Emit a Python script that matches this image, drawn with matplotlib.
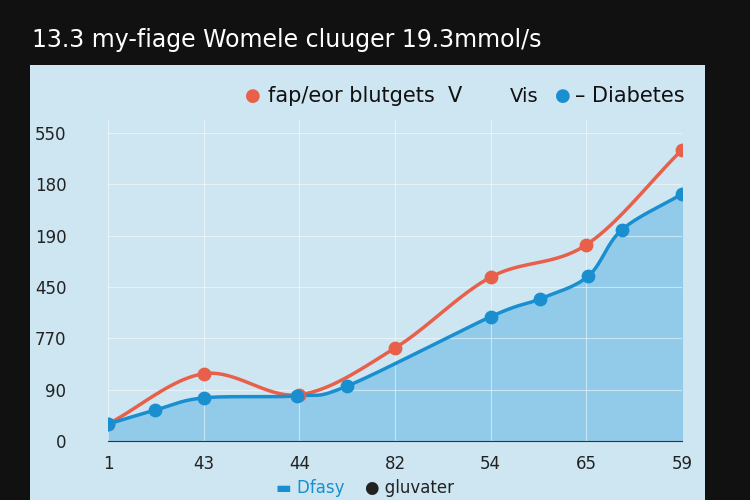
import matplotlib
matplotlib.use("Agg")
import matplotlib.pyplot as plt
import numpy as np
from matplotlib.patches import Rectangle

x_labels = ["1", "43", "44", "82", "54", "65", "59"]
y_labels = ["0", "90", "770", "450", "190", "180", "550"]

orange_x = [0, 1, 2, 3, 4, 5, 6]
orange_y = [0.33, 1.31, 0.90, 1.81, 3.19, 3.82, 5.67]
blue_x = [0, 0.49, 1.0, 1.98, 2.5, 4.0, 4.52, 5.02, 5.37, 6]
blue_y = [0.33, 0.60, 0.84, 0.88, 1.07, 2.42, 2.77, 3.21, 4.11, 4.81]

def smooth(xs, ys, n=20):
    xs = np.asarray(xs, float); ys = np.asarray(ys, float)
    px = np.concatenate([[2*xs[0]-xs[1]], xs, [2*xs[-1]-xs[-2]]])
    py = np.concatenate([[2*ys[0]-ys[1]], ys, [2*ys[-1]-ys[-2]]])
    ox, oy = [], []
    for i in range(1, len(px)-2):
        t = np.linspace(0, 1, n, endpoint=False)
        for arr, out in ((px, ox), (py, oy)):
            p0, p1, p2, p3 = arr[i-1:i+3]
            out.extend(0.5*((2*p1) + (-p0+p2)*t + (2*p0-5*p1+4*p2-p3)*t**2 + (-p0+3*p1-3*p2+p3)*t**3))
    ox.append(xs[-1]); oy.append(ys[-1])
    return np.array(ox), np.array(oy)

fig = plt.figure(figsize=(7.5, 5), dpi=100, facecolor="#111111")
fig.patches.append(Rectangle((30/750, 0), 675/750, 435/500, transform=fig.transFigure,
                             facecolor="#cde6f2", edgecolor="none", zorder=-10))
fig.text(32/750, 1-40/500, "13.3 my-fiage Womele cluuger 19.3mmol/s", color="white",
         fontsize=17, va="center", ha="left")

ax = fig.add_axes([108/750, 59/500, 574/750, 321/500])
ax.set_zorder(2)
ax.set_facecolor("none")
ax.set_xlim(0, 6)
ax.set_ylim(0, 6.25)
for s in ["top", "right", "left"]:
    ax.spines[s].set_visible(False)
ax.spines["bottom"].set_color("#333333")
ax.set_xticks(range(7)); ax.set_xticklabels(x_labels, fontsize=12, color="#222222")
ax.set_yticks(range(7)); ax.set_yticklabels(y_labels, fontsize=12, color="#222222")
ax.tick_params(axis="y", length=0, pad=30)
ax.tick_params(axis="x", length=0, pad=10)
ax.grid(color="white", alpha=0.5, lw=0.8)

bx, by = smooth(blue_x, blue_y)
ox, oy = smooth(orange_x, orange_y)
ax.fill_between(bx, 0, by, color="#8cc8ea", alpha=0.9, zorder=1)
ax.plot(ox, oy, color="#e8604a", lw=2.5, zorder=3)
ax.plot(bx, by, color="#1a8fd0", lw=2.5, zorder=4)
ax.scatter(orange_x, orange_y, s=80, color="#e8604a", zorder=5)
ax.scatter(blue_x, blue_y, s=80, color="#1a8fd0", zorder=6)

fig.text(253/750, 1-96/500, "●", color="#e8604a", fontsize=13, va="center", ha="center")
fig.text(268/750, 1-96/500, "fap/eor blutgets  V", color="#111111", fontsize=15, va="center")
fig.text(510/750, 1-96/500, "Vis", color="#111111", fontsize=14, va="center")
fig.text(563/750, 1-96/500, "●", color="#1a8fd0", fontsize=13, va="center", ha="center")
fig.text(575/750, 1-96/500, "– Diabetes", color="#111111", fontsize=15, va="center")
fig.text(276/750, 1-488/500, "▬ Dfasy", color="#1a8fd0", fontsize=12, va="center")
fig.text(365/750, 1-488/500, "● gluvater", color="#222222", fontsize=12, va="center")

fig.savefig("out.png", dpi=100, facecolor=fig.get_facecolor())
